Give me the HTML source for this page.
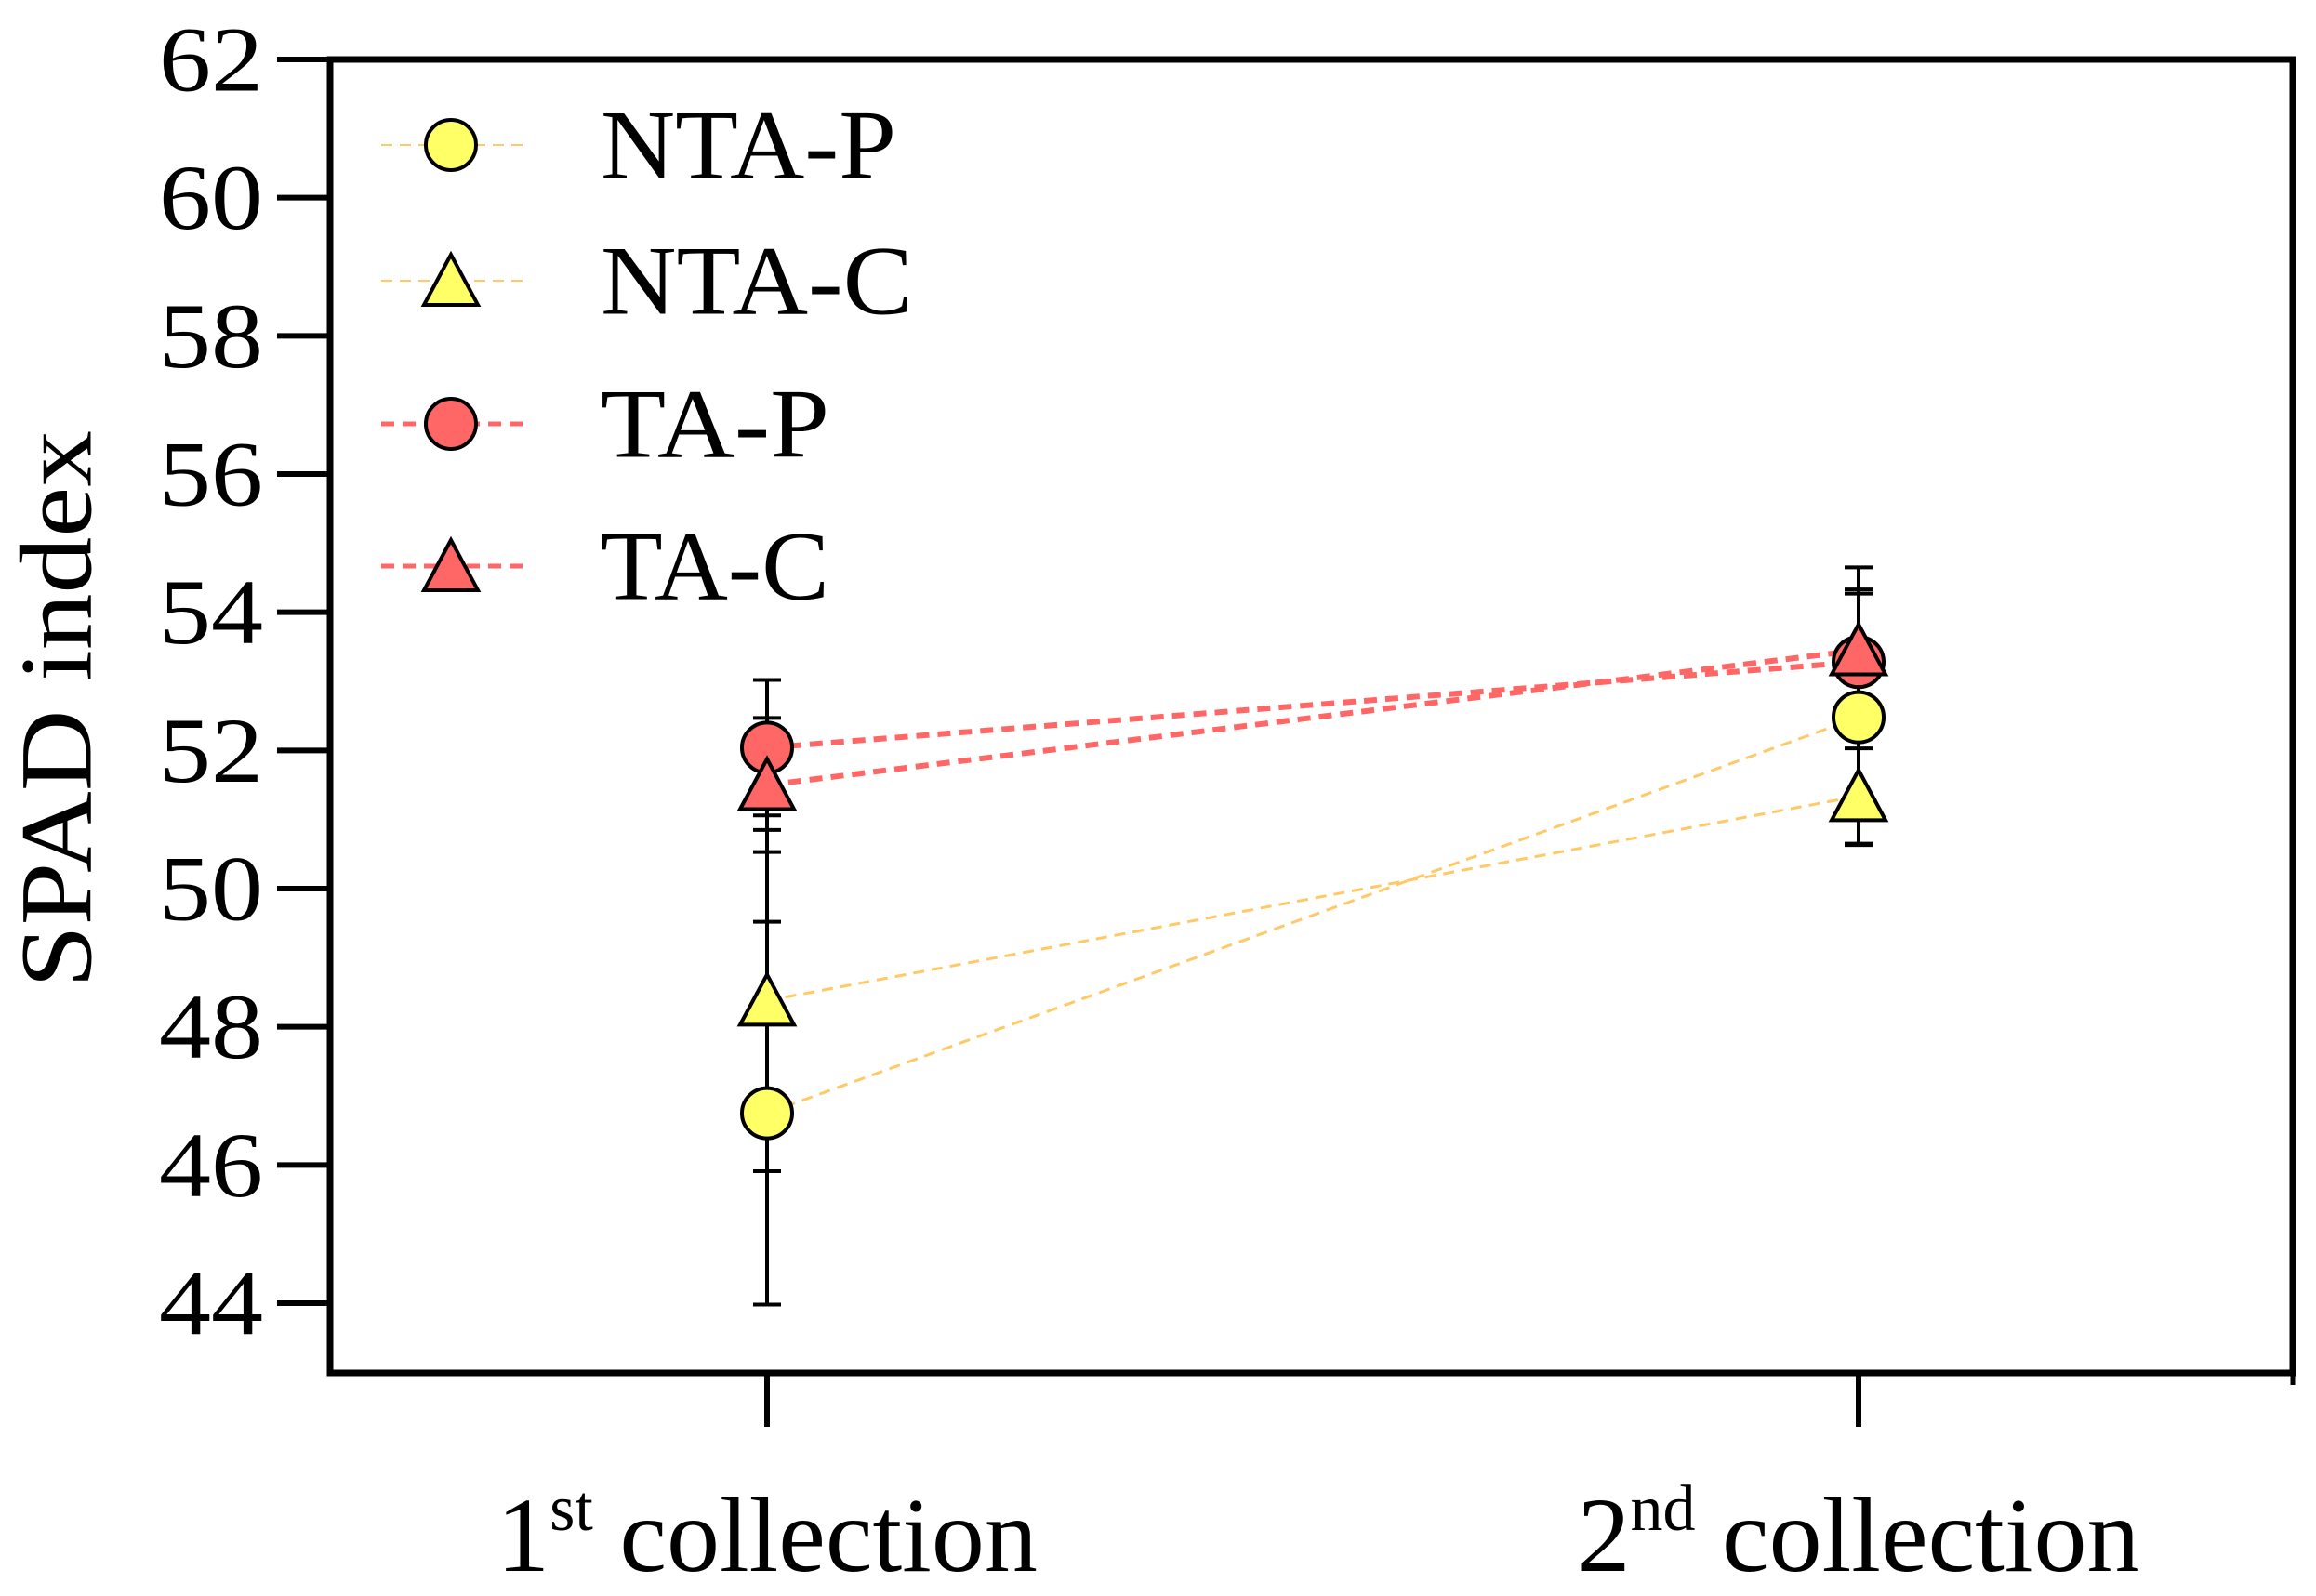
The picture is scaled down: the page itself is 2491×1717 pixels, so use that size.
<!DOCTYPE html>
<html><head><meta charset="utf-8"><style>
html,body{margin:0;padding:0;background:#fff;}
svg{display:block;}
text{font-family:"Liberation Serif",serif;fill:#000;}
</style></head><body>
<svg id="chart" width="2491" height="1717" viewBox="0 0 2491 1717" xmlns="http://www.w3.org/2000/svg">
<g id="axes"></g>
<g id="lines"></g>
<g id="errs"></g>
<g id="marks"></g>
<g id="legend"></g>
<text x="72" y="763" font-size="110" text-anchor="middle" dominant-baseline="middle" textLength="600" lengthAdjust="spacingAndGlyphs" transform="rotate(-90 72 763)">SPAD index</text>
<text x="825" y="1690" font-size="114" text-anchor="middle">1<tspan font-size="70" dy="-44">st</tspan><tspan dy="44"> collection</tspan></text>
<text x="1999" y="1690" font-size="114" text-anchor="middle">2<tspan font-size="70" dy="-44">nd</tspan><tspan dy="44"> collection</tspan></text>
</svg>
<script>
const categories = ["1st collection", "2nd collection"];
const seriesNames = ["NTA-P", "NTA-C", "TA-P", "TA-C"];
const ntaP = [46.75, 52.48];
const ntaPErr = [2.77, 1.85];
const ntaC = [48.38, 51.34];
const ntaCErr = [2.47, 0.69];
const taP = [52.04, 53.28];
const taPErr = [0.98, 0.99];
const taC = [51.50, 53.45];
const taCErr = [0.97, 1.20];
const yTicks = [44, 46, 48, 50, 52, 54, 56, 58, 60, 62];

const NS = "http://www.w3.org/2000/svg";
const L = 355, R = 2466, T = 64, B = 1477;
const yMin = 44, yMax = 62, y44 = 1402;
function yS(v){ return T + (yMax - v) * (y44 - T) / (yMax - yMin); }
const xPos = [825, 1999];
function xS(i){ return xPos[i]; }
function mk(tag, attrs, parent){
  const e = document.createElementNS(NS, tag);
  for (const k in attrs) e.setAttribute(k, attrs[k]);
  parent.appendChild(e);
  return e;
}
const axes = document.getElementById('axes');
let e;
e = mk('rect', {x:L, y:T, width:R-L, height:B-T, fill:'none', stroke:'#000', 'stroke-width':7}, axes);


yTicks.forEach(v => {
  const y = yS(v);
  e = mk('line', {x1:298, x2:L, y1:y, y2:y, stroke:'#000', 'stroke-width':6}, axes);
  
  
  e = mk('text', {x:283, y:y, 'font-size':100, 'text-anchor':'end', 'dominant-baseline':'central', textLength:112, lengthAdjust:'spacingAndGlyphs'}, axes);
  e.textContent = v;
  
  
});
categories.forEach((c, i) => {
  e = mk('line', {x1:xS(i), x2:xS(i), y1:B, y2:1535, stroke:'#000', 'stroke-width':6}, axes);
  
  
});
e = mk('line', {x1:R, x2:R, y1:B, y2:1490, stroke:'#000', 'stroke-width':5}, axes);



const series = [
  {name:seriesNames[0], v:ntaP, err:ntaPErr, shape:'circle', fill:'#ffff66', line:'#ffc966', lw:3, dash:'12 8'},
  {name:seriesNames[1], v:ntaC, err:ntaCErr, shape:'tri', fill:'#ffff66', line:'#ffc966', lw:3, dash:'12 8'},
  {name:seriesNames[2], v:taP, err:taPErr, shape:'circle', fill:'#ff6666', line:'#ff6666', lw:6, dash:'14 9'},
  {name:seriesNames[3], v:taC, err:taCErr, shape:'tri', fill:'#ff6666', line:'#ff6666', lw:6, dash:'14 9'}
];
function marker(shape, cx, cy, fill, parent){
  let m;
  if (shape === 'circle') m = mk('circle', {cx:cx, cy:cy, r:27, fill:fill, stroke:'#000', 'stroke-width':4}, parent);
  else m = mk('polygon', {points:`${cx},${cy-28} ${cx-29},${cy+26} ${cx+29},${cy+26}`, fill:fill, stroke:'#000', 'stroke-width':4, 'stroke-linejoin':'miter'}, parent);
  return m;
}
const lines = document.getElementById('lines'), errs = document.getElementById('errs'), marks = document.getElementById('marks');
series.forEach(s => {
  e = mk('line', {x1:xS(0), y1:yS(s.v[0]), x2:xS(1), y2:yS(s.v[1]), stroke:s.line, 'stroke-width':s.lw, 'stroke-dasharray':s.dash}, lines);
  
  
  s.v.forEach((v, i) => {
    const x = xS(i), yt = yS(v + s.err[i]), yb = yS(v - s.err[i]);
    e = mk('path', {d:`M${x},${yt}V${yb}M${x-15},${yt}H${x+15}M${x-15},${yb}H${x+15}`, stroke:'#000', 'stroke-width':4, fill:'none'}, errs);
    
    
  });
});
series.forEach(s => {
  s.v.forEach((v, i) => {
    e = marker(s.shape, xS(i), yS(v), s.fill, marks);
    
    
  });
});
const legend = document.getElementById('legend');
const legY = [156, 302, 456, 609];
const legW = [318, 336, 246, 246];
series.forEach((s, i) => {
  const g = mk('g', {}, legend);
  
  
  mk('line', {x1:410, x2:564, y1:legY[i], y2:legY[i], stroke:s.line, 'stroke-width':s.lw-1, 'stroke-dasharray':s.dash}, g);
  marker(s.shape, 485, legY[i], s.fill, g);
  const t = mk('text', {x:646, y:legY[i], 'font-size':106, 'dominant-baseline':'central', textLength:legW[i], lengthAdjust:'spacingAndGlyphs'}, g);
  t.textContent = s.name;
});
</script>
</body></html>
